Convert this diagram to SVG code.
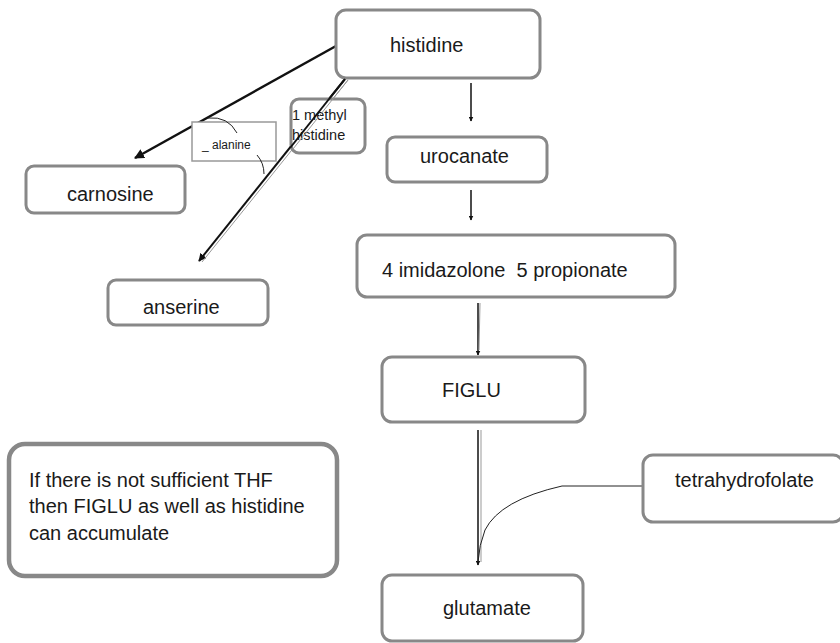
<svg xmlns="http://www.w3.org/2000/svg" width="840" height="643" viewBox="0 0 840 643">
<style>
.box{fill:#fff;stroke:#888;stroke-width:3}
.t{font-family:"Liberation Sans",Arial,sans-serif;font-size:20px;fill:#1a1a1a}
.s{font-family:"Liberation Sans",Arial,sans-serif;fill:#1a1a1a}
.ln{fill:none;stroke:#111;stroke-width:1.5}
.gl{fill:none;stroke:#999;stroke-width:1}
.arc{fill:none;stroke:#222;stroke-width:1}
</style>
<defs>
<marker id="ah" viewBox="0 0 10 10" refX="9" refY="5" markerWidth="5" markerHeight="5" orient="auto" markerUnits="userSpaceOnUse">
<path d="M0,0 L10,5 L0,10 Z" fill="#111"/>
</marker>
<marker id="ahb" viewBox="0 0 10 10" refX="9" refY="5" markerWidth="4" markerHeight="4" orient="auto">
<path d="M0,0 L10,5 L0,10 Z" fill="#111"/>
</marker>
</defs>
<rect width="840" height="643" fill="#fff"/>
<g id="connectors">
<line x1="336" y1="46" x2="135" y2="158" stroke="#111" stroke-width="2.5" marker-end="url(#ahb)"/>
<line x1="345" y1="79" x2="199" y2="261" stroke="#111" stroke-width="2" marker-end="url(#ahb)"/>
<line x1="348" y1="80" x2="202" y2="262" class="gl"/>
<line x1="471" y1="83" x2="471" y2="121" class="ln" marker-end="url(#ah)"/>
<line x1="471" y1="190" x2="471" y2="220" class="ln" marker-end="url(#ah)"/>
<line x1="478" y1="303" x2="478" y2="355" class="ln" marker-end="url(#ah)"/>
<line x1="480" y1="303" x2="479" y2="350" class="gl"/>
<line x1="478" y1="430" x2="478" y2="565" class="ln" marker-end="url(#ah)"/>
<line x1="481" y1="430" x2="481" y2="562" class="gl"/>
<path d="M643,486 L562,486 Q500,500 485,530 Q479,545 478,562" class="arc"/>
</g>
<g id="histidine">
<rect class="box" x="336" y="10" width="204" height="68" rx="10"/>
<text class="t" x="390" y="52">histidine</text>
</g>
<g id="urocanate">
<rect class="box" x="387" y="137" width="160" height="45" rx="8"/>
<text class="t" x="420" y="163">urocanate</text>
</g>
<g id="imidazolone">
<rect class="box" x="357" y="235" width="318" height="62" rx="10"/>
<text class="t" x="382" y="277" xml:space="preserve">4 imidazolone  5 propionate</text>
</g>
<g id="figlu">
<rect class="box" x="382" y="357" width="203" height="65" rx="10"/>
<text class="t" x="442" y="397">FIGLU</text>
</g>
<g id="glutamate">
<rect class="box" x="382" y="575" width="201" height="66" rx="10"/>
<text class="t" x="443" y="615">glutamate</text>
</g>
<g id="tetrahydrofolate">
<rect class="box" x="643" y="455" width="200" height="67" rx="10"/>
<text class="t" x="675" y="487">tetrahydrofolate</text>
</g>
<g id="carnosine">
<rect class="box" x="26" y="166" width="159" height="47" rx="8"/>
<text class="t" x="67" y="201">carnosine</text>
</g>
<g id="anserine">
<rect class="box" x="108" y="280" width="160" height="45" rx="8"/>
<text class="t" x="143" y="314">anserine</text>
</g>
<g id="alanine">
<rect x="192" y="122" width="84" height="39" fill="#fff" stroke="#999" stroke-width="1.5"/>
<text class="s" x="202" y="149" font-size="12">_ alanine</text>
<path d="M208,118 Q228,116 237,133" class="arc"/>
<path d="M257,155 Q264,163 264,174" class="arc"/>
</g>
<g id="methylhistidine">
<rect class="box" x="291" y="99" width="74" height="54" rx="8"/>
<text class="s" x="292" y="120" font-size="14.5">1 methyl</text>
<text class="s" x="292" y="140" font-size="14.5">histidine</text>
</g>
<g id="connector-overlay">
<line x1="345" y1="79" x2="290" y2="148" stroke="#111" stroke-width="2"/>
<line x1="348" y1="80" x2="293" y2="149" class="gl"/>
</g>
<g id="note">
<rect x="9" y="444" width="328" height="132" rx="16" fill="#fff" stroke="#888" stroke-width="4.5"/>
<text class="t" x="29" y="487">If there is not sufficient THF</text>
<text class="t" x="29" y="513">then FIGLU as well as histidine</text>
<text class="t" x="29" y="540">can accumulate</text>
</g>
</svg>
